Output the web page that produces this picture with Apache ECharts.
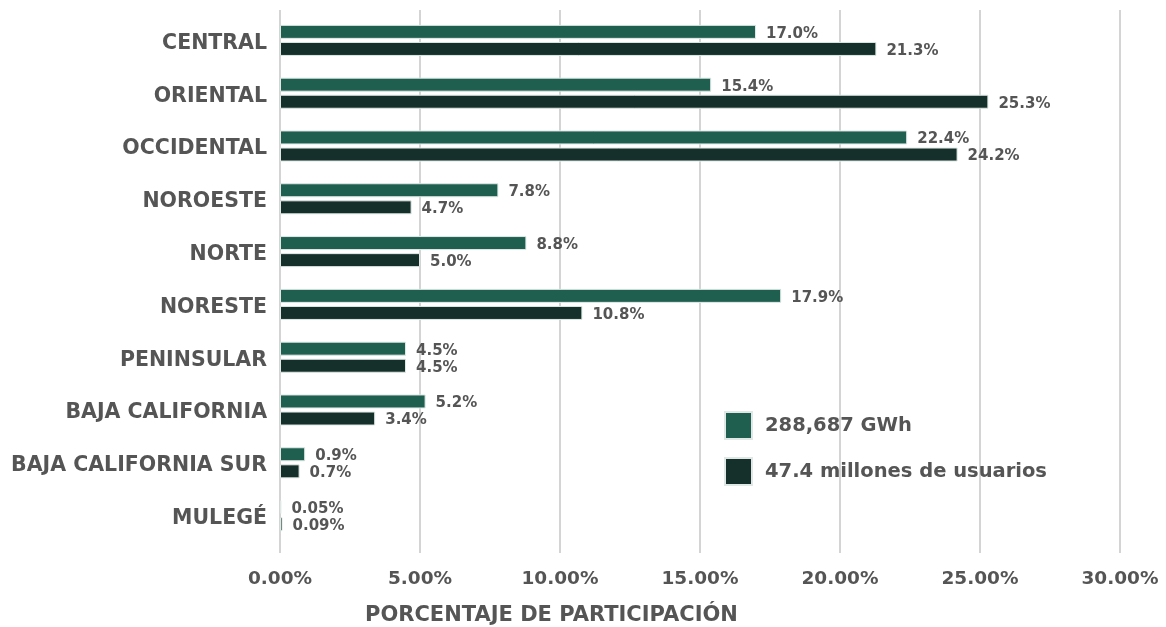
<!DOCTYPE html>
<html>
<head>
<meta charset="utf-8">
<script src="https://cdn.jsdelivr.net/npm/echarts@6/dist/echarts.min.js"></script>
<style>
  html, body { margin: 0; padding: 0; background: #ffffff; }
  #chart { width: 1166px; height: 627px; }
</style>
</head>
<body>
<div id="chart"></div>
<script>
// Regions (top to bottom)
const regions = ['CENTRAL', 'ORIENTAL', 'OCCIDENTAL', 'NOROESTE', 'NORTE', 'NORESTE',
  'PENINSULAR', 'BAJA CALIFORNIA', 'BAJA CALIFORNIA SUR', 'MULEGÉ'];

// Share of energy sales (%)
const energyShare = [17.0, 15.4, 22.4, 7.8, 8.8, 17.9, 4.5, 5.2, 0.9, 0.05];
// Share of users (%)
const userShare = [21.3, 25.3, 24.2, 4.7, 5.0, 10.8, 4.5, 3.4, 0.7, 0.09];

const seriesNames = ['288,687 GWh', '47.4 millones de usuarios'];
const xTicks = [0, 5, 10, 15, 20, 25, 30];

const FONT = '"DejaVu Sans", sans-serif';
const TEXT = '#555555';
const colors = ['#1f5f4f', '#15302a'];

function pctLabel(v) {
  return (v < 0.1 ? v.toFixed(2) : v.toFixed(1)) + '%';
}

const xMin = xTicks[0];
const xMax = xTicks[xTicks.length - 1];
const xStep = xTicks[1] - xTicks[0];

const chart = echarts.init(document.getElementById('chart'));

chart.setOption({
  animation: false,
  backgroundColor: '#ffffff',
  grid: [
    // bars
    { left: 280, right: 46, top: 14, bottom: 85, containLabel: false },
    // taller grid that only carries the vertical gridlines
    { left: 280, right: 46, top: 10, bottom: 74, containLabel: false }
  ],
  legend: {
    orient: 'vertical',
    left: 719,
    top: 406,
    icon: 'rect',
    itemWidth: 27,
    itemHeight: 27,
    itemGap: 17,
    textStyle: { fontFamily: FONT, fontWeight: 'bold', fontSize: 19.5, color: TEXT, padding: [0, 0, 0, 8] },
    data: seriesNames
  },
  title: {
    text: 'PORCENTAJE DE PARTICIPACIÓN',
    left: 360,
    top: 600,
    textStyle: { fontFamily: FONT, fontWeight: 'bold', fontSize: 21, color: TEXT }
  },
  xAxis: [
    {
      gridIndex: 0,
      type: 'value',
      min: xMin, max: xMax, interval: xStep,
      axisLine: { show: false },
      axisTick: { show: false },
      splitLine: { show: false },
      axisLabel: {
        margin: 28,
        fontFamily: FONT, fontWeight: 'bold', fontSize: 18.5, color: TEXT,
        formatter: v => v.toFixed(2) + '%'
      }
    },
    {
      gridIndex: 1,
      type: 'value',
      min: xMin, max: xMax, interval: xStep,
      axisLine: { show: false },
      axisTick: { show: false },
      axisLabel: { show: false },
      splitLine: { show: true, lineStyle: { color: '#d4d4d4', width: 2 } }
    }
  ],
  yAxis: [
    {
      gridIndex: 0,
      type: 'category',
      inverse: true,
      data: regions,
      axisLine: { show: false },
      axisTick: { show: false },
      axisLabel: {
        margin: 13,
        formatter: v => '{r|' + v + '}',
        rich: {
          r: {
            padding: [6, 0, 0, 0],
            fontFamily: FONT, fontWeight: 'bold', fontSize: 20.5, color: TEXT
          }
        }
      }
    },
    {
      gridIndex: 1,
      type: 'category',
      inverse: true,
      data: regions,
      show: false
    }
  ],
  series: [
    {
      name: seriesNames[0],
      type: 'bar',
      data: energyShare,
      barWidth: 14,
      barGap: '22%',
      z: 3,
      itemStyle: { color: colors[0], borderColor: '#dfe8e5', borderWidth: 1 },
      label: {
        show: true, position: 'right', distance: 10, offset: [0, 2],
        fontFamily: FONT, fontWeight: 'bold', fontSize: 15, color: TEXT,
        formatter: p => pctLabel(p.value)
      }
    },
    {
      name: seriesNames[1],
      type: 'bar',
      data: userShare,
      barWidth: 14,
      z: 3,
      itemStyle: { color: colors[1], borderColor: '#dfe8e5', borderWidth: 1 },
      label: {
        show: true, position: 'right', distance: 10, offset: [0, 2],
        fontFamily: FONT, fontWeight: 'bold', fontSize: 15, color: TEXT,
        formatter: p => pctLabel(p.value)
      }
    }
  ]
});
</script>
</body>
</html>
